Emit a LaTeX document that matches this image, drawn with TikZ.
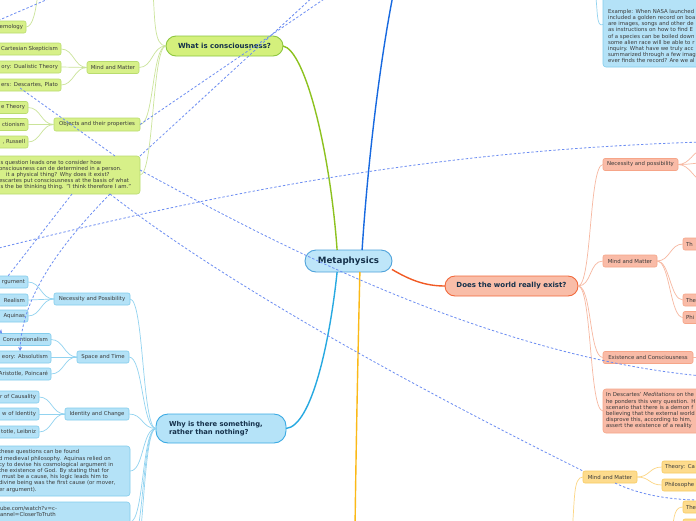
\documentclass[tikz,border=0pt]{standalone}
\usepackage{fontspec}
\setmainfont{DejaVu Sans}
\usetikzlibrary{arrows.meta,calc}
\definecolor{gMF}{HTML}{D4F07C}
\definecolor{gMB}{HTML}{8DC63F}
\definecolor{gSF}{HTML}{D7F089}
\definecolor{gSB}{HTML}{B9DC6E}
\definecolor{gML}{HTML}{8DC21F}
\definecolor{gSL}{HTML}{CBE49A}
\definecolor{metaF}{HTML}{BEE6F9}
\definecolor{metaB}{HTML}{4FA3DB}
\definecolor{bMF}{HTML}{B5E3F8}
\definecolor{bMB}{HTML}{3BAAE3}
\definecolor{bSF}{HTML}{B4E2F7}
\definecolor{bSB}{HTML}{82CCEC}
\definecolor{bML}{HTML}{27A9E1}
\definecolor{bSL}{HTML}{92D3F0}
\definecolor{dbL}{HTML}{1769E0}
\definecolor{oMF}{HTML}{F9BDA8}
\definecolor{oMB}{HTML}{F2693C}
\definecolor{oML}{HTML}{F15A24}
\definecolor{oSF}{HTML}{F9BBA7}
\definecolor{oSB}{HTML}{F6A588}
\definecolor{oSL}{HTML}{F7B8A1}
\definecolor{ySF}{HTML}{FDDB8D}
\definecolor{ySB}{HTML}{F8CB62}
\definecolor{yML}{HTML}{FBB917}
\definecolor{ySL}{HTML}{FCD683}
\definecolor{relc}{HTML}{6C8DF2}
\definecolor{topictxt}{HTML}{14304A}
\definecolor{subtxt}{HTML}{3B3B3B}
\begin{document}
\begin{tikzpicture}[x=1pt,y=-1pt,
  every node/.style={inner sep=0pt, outer sep=0pt},
  maintopic/.style={draw, line width=0.9pt, rounded corners=10pt, font=\bfseries\fontsize{7}{8.4}\selectfont, text=topictxt, minimum height=20pt, align=center},
  sub/.style={draw, line width=0.6pt, rounded corners=2pt, font=\fontsize{5.4}{6.2}\selectfont, text=subtxt, minimum height=12pt, inner xsep=3pt},
  gsub/.style={sub, fill=gSF, draw=gSB},
  bsub/.style={sub, fill=bSF, draw=bSB},
  osub/.style={sub, fill=oSF, draw=oSB},
  ysub/.style={sub, fill=ySF, draw=ySB},
  leafl/.style={anchor=east, text width=90pt, align=right},
  leafr/.style={anchor=west, text width=60pt, align=left},
  txtbox/.style={draw, line width=0.6pt, rounded corners=3pt, font=\fontsize{5.4}{6.2}\selectfont, text=subtxt, align=left, inner xsep=3pt},
  plaintxt/.style={font=\fontsize{5.4}{6.2}\selectfont, text=subtxt, align=left},
  rel/.style={draw=relc, line width=0.8pt, dash pattern=on 2.4pt off 2pt},
  mainline/.style={line width=1.4pt},
  gline/.style={draw=gSL, line width=0.7pt},
  bline/.style={draw=bSL, line width=0.7pt},
  oline/.style={draw=oSL, line width=0.7pt},
  yline/.style={draw=ySL, line width=0.7pt}
]
\useasboundingbox (0,0) rectangle (696,520);
\clip (0,0) rectangle (696,520);
\fill[white] (0,0) rectangle (696,520);

% ---------- main topics ----------
\node[maintopic, fill=metaF, draw=metaB, minimum width=87pt, minimum height=22pt, rounded corners=11pt, font=\bfseries\fontsize{8.7}{10}\selectfont] (meta) at (348.5,261) {Metaphysics};
\node[maintopic, fill=gMF, draw=gMB, minimum width=117pt] (what) at (224.5,46) {What is consciousness?};
\node[maintopic, fill=oMF, draw=oMB, minimum width=133pt] (does) at (511.5,286) {Does the world really exist?};
\node[maintopic, fill=bMF, draw=bMB, minimum width=130pt, minimum height=29pt, rounded corners=12pt, text width=112pt, align=left, font=\bfseries\fontsize{6.8}{7.7}\selectfont] (why) at (221,428.5) {\hspace*{4pt}Why is there something,\\\hspace*{4pt}rather than nothing?};

% ---------- green subtopics ----------
\node[gsub, minimum width=52pt] (gmm) at (113,67.5) {Mind and Matter};
\node[gsub, minimum width=86pt, minimum height=13pt] (gobj) at (97,124.5) {Objects and their properties};
\node[gsub, leafl] (gepi) at (26,27) {emology};
\node[gsub, leafl] (gcs) at (61,49) {Cartesian Skepticism};
\node[gsub, leafl] (gdt) at (61,67) {ory: Dualistic Theory};
\node[gsub, leafl] (gdp) at (61,85) {ers: Descartes, Plato};
\node[gsub, leafl] (go1) at (28,107.5) {e Theory};
\node[gsub, leafl] (go2) at (28,124.5) {ctionism};
\node[gsub, leafl] (go3) at (28,142) {, Russell};
\node[txtbox, fill=gSF, draw=gSB, anchor=east, text width=138pt, minimum height=38pt] (gt) at (140,175) {is question leads one to consider how\\onsciousness can de determined in a person.\\\hspace*{7pt}it a physical thing? Why does it exist?\\escartes put consciousness at the basis of what\\is the be thinking thing. "I think therefore I am."};

% ---------- blue subtopics ----------
\node[bsub, minimum width=76pt] (bnp) at (92,299) {Necessity and Possibility};
\node[bsub, minimum width=52pt] (bst) at (103,357) {Space and Time};
\node[bsub, minimum width=64pt] (bic) at (97,414) {Identity and Change};
\node[bsub, leafl] (bn1) at (28,282) {rgument};
\node[bsub, leafl] (bn2) at (28,300) {Realism};
\node[bsub, leafl] (bn3) at (28,316) {Aquinas};
\node[bsub, leafl] (bs1) at (51,339.5) {Conventionalism};
\node[bsub, leafl] (bs2) at (51,357) {eory: Absolutism};
\node[bsub, leafl] (bs3) at (51,374) {Aristotle, Poincaré};
\node[bsub, leafl] (bi1) at (39,397) {r of Causality};
\node[bsub, leafl] (bi2) at (39,414) {w of Identity};
\node[bsub, leafl] (bi3) at (39,432) {totle, Leibniz};
\node[txtbox, fill=bSF, draw=bSB, anchor=east, text width=128pt, minimum height=50pt] (bt) at (130,471) {these questions can be found\\d medieval philosophy. Aquinas relied on\\cy to devise his cosmological argument in\\the existence of God. By stating that for\\\hspace*{3pt}must be a cause, his logic leads him to\\divine being was the first cause (or mover,\\er argument).};
\node[txtbox, fill=bSF, draw=bSB, anchor=north east, minimum width=140pt, minimum height=40pt] (blbox) at (130,502) {};
\node[plaintxt, anchor=north west] (blink) at (0,506) {ube.com/watch?v=c-\\annel=CloserToTruth};
\node[txtbox, fill=bSF, draw=bSB, anchor=south west, minimum width=120pt, minimum height=85pt] (exbox) at (603,67) {};
\node[plaintxt, anchor=south west] (ex) at (608,63) {Example: When NASA launched\\included a golden record on boa\\are images, songs and other de\\as instructions on how to find E\\of a species can be boiled down\\some alien race will be able to r\\inquiry. What have we truly acc\\summarized through a few imag\\ever finds the record? Are we al};

% ---------- orange subtopics ----------
\node[osub, minimum width=75pt] (onp) at (640.5,164.5) {Necessity and possibility};
\node[osub, minimum width=54pt] (omm) at (630,261) {Mind and Matter};
\node[osub, minimum width=90pt] (oec) at (648,357.5) {Existence and Consciousness};
\node[osub, leafr] (oth) at (683,244) {Th};
\node[osub, leafr] (othe) at (683,300) {The};
\node[osub, leafr] (ophi) at (683,317.5) {Phi};
\node[txtbox, fill=oSF, draw=oSB, anchor=west, text width=100pt, minimum height=44pt] (otx) at (603,411) {In Descartes' \emph{Meditations} on the\\he ponders this very question. H\\scenario that there is a demon f\\believing that the external world\\disprove this, according to him,\\assert the existence of a reality};

% ---------- yellow subtopics ----------
\node[ysub, minimum width=54pt] (ymm) at (610,477) {Mind and Matter};
\node[ysub, leafr] (yth) at (662,467) {Theory: Ca};
\node[ysub, leafr] (yph) at (662,485) {Philosophe};
\node[ysub, leafr] (ythe) at (683,507) {The};
\node[ysub, leafr] (ynext) at (683,525) {};

% ---------- free ends ----------
\coordinate (dbtop) at (394,-10);
\coordinate (ybot) at (355,530);
\coordinate (gtop) at (153,-8);
\coordinate (epitop) at (38,-8);
\coordinate (bfree1) at (130,548);
\coordinate (bfree2) at (130,580);
\coordinate (onp1) at (702,150);
\coordinate (onp2) at (702,163);
\coordinate (onp3) at (702,180);
\coordinate (oecr) at (705,357.5);
\coordinate (ymmbot) at (572,532);
\coordinate (ythebot) at (672,532);
\coordinate (extop) at (595,-10);

% ---------- main connectors ----------
\draw[mainline, draw=gML] (meta.136) .. controls (330,150) and (305,50) .. (what.east);
\draw[mainline, draw=dbL] (meta.39) .. controls (368,160) and (380,60) .. (dbtop);
\draw[mainline, draw=oML] (meta.-11) .. controls (410,280) and (425,286) .. (does.west);
\draw[mainline, draw=bML] (meta.-136) .. controls (330,340) and (312,426) .. (why.east);
\draw[mainline, draw=yML] (meta.-44) .. controls (358,350) and (356,450) .. (ybot);

% ---------- green connectors ----------
\draw[gline] (what.west) .. controls +(-12,0) and (155,20) .. (gtop);
\foreach \t in {gmm,gobj,gt} \draw[gline] (what.west) .. controls +(-14,0) and +(14,0) .. (\t.east);
\foreach \t in {gcs,gdt,gdp} \draw[gline] (gmm.west) .. controls +(-13,0) and +(13,0) .. (\t.east);
\foreach \t in {go1,go2,go3} \draw[gline] (gobj.west) .. controls +(-13,0) and +(13,0) .. (\t.east);
\draw[gline] (gepi.east) .. controls +(7,0) and (36,10) .. (epitop);

% ---------- blue connectors ----------
\foreach \t in {bnp,bst,bic,bt,blbox} \draw[bline] (why.west) .. controls +(-14,0) and +(14,0) .. (\t.east);
\foreach \t in {bfree1,bfree2} \draw[bline] (why.west) .. controls +(-14,0) and +(14,0) .. (\t);
\foreach \t in {bn1,bn2,bn3} \draw[bline] (bnp.west) .. controls +(-13,0) and +(13,0) .. (\t.east);
\foreach \t in {bs1,bs2,bs3} \draw[bline] (bst.west) .. controls +(-13,0) and +(13,0) .. (\t.east);
\foreach \t in {bi1,bi2,bi3} \draw[bline] (bic.west) .. controls +(-13,0) and +(13,0) .. (\t.east);
\draw[bline] (extop) .. controls (598,10) and (596,28) .. (exbox.west);

% ---------- orange connectors ----------
\foreach \t in {onp,omm,oec,otx} \draw[oline] (does.east) .. controls +(14,0) and +(-14,0) .. (\t.west);
\foreach \t in {onp1,onp2,onp3} \draw[oline] (onp.east) .. controls +(12,0) and +(-8,0) .. (\t);
\foreach \t in {oth,othe,ophi} \draw[oline] (omm.east) .. controls +(13,0) and +(-13,0) .. (\t.west);
\draw[oline] (oec.east) -- (oecr);

% ---------- yellow connectors ----------
\draw[yline] (ymm.west) .. controls +(-10,0) and (575,500) .. (ymmbot);
\foreach \t in {yth,yph} \draw[yline] (ymm.east) .. controls +(13,0) and +(-13,0) .. (\t.west);
\draw[yline] (ythe.west) .. controls +(-8,0) and (674,515) .. (ythebot);

% ---------- relationships (dashed) ----------
\draw[rel] (-5,249) .. controls (250,185) and (450,150) .. (702,142);
\draw[rel] (gobj.east) -- (330,-5);
\draw[rel] (gt.north east) -- (315,-5);
\draw[rel] (20,88) -- ($(gt.north east)+(-25,0)$);
\draw[rel] ($(gt.south east)+(-68,0)$) -- ($(bn1.north east)+(-20,0)$);
\draw[rel, -{Stealth[length=4pt,width=4pt]}] ($(gt.south east)+(-30,0)$) .. controls (55,250) and (22,300) .. ($(bs2.north east)+(-31,0)$);
\draw[rel, -{Stealth[length=4pt,width=4pt]}] (-20,305) -- ($(bs1.north east)+(-49,0)$);
\draw[rel] ($(gt.east)+(0,-5)$) .. controls (260,235) and (480,355) .. (702,376);
\draw[rel] ($(gt.south east)+(-30,0)$) .. controls (240,295) and (450,405) .. (ymm.north west);
\draw[rel] ($(ymm.south)+(5,0)$) .. controls (640,495) and (670,500) .. (702,500);
\draw[rel] (-10,24) -- (60,-6);
\end{tikzpicture}
\end{document}
